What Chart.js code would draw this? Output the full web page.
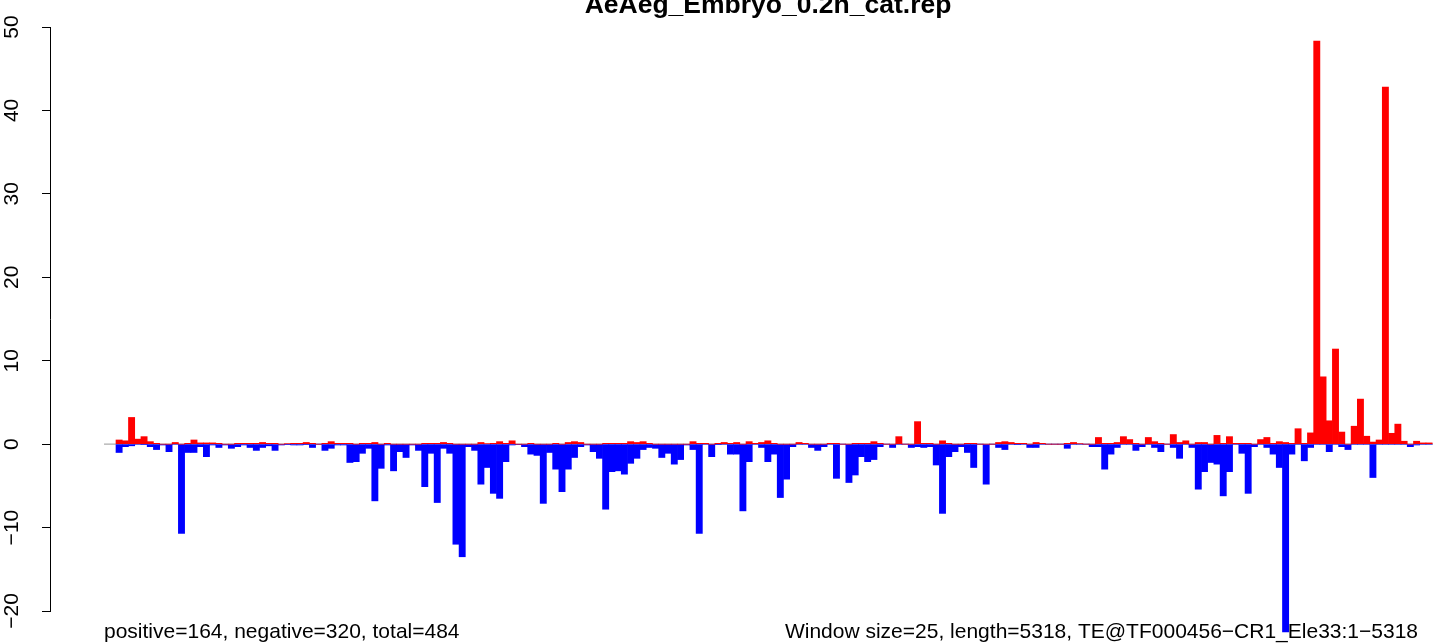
<!DOCTYPE html>
<html>
<head>
<meta charset="utf-8">
<script src="https://cdn.jsdelivr.net/npm/chart.js@4.4.1/dist/chart.umd.min.js"></script>
<style>
  html, body { margin: 0; padding: 0; background: #ffffff; overflow: hidden; }
  canvas { display: block; }
</style>
</head>
<body>
<canvas id="c" width="1433" height="643"></canvas>
<script>
// ---- data ----
const titleText = "AeAeg_Embryo_0.2h_cat.rep";
const leftNote = "positive=164, negative=320, total=484";
const rightNote = "Window size=25, length=5318, TE@TF000456\u2212CR1_Ele33:1\u22125318";
const yTicks = [-20, -10, 0, 10, 20, 30, 40, 50];

const positive = [
  0.5, 0.4, 3.2, 0.6, 0.9, 0.3, 0.1, 0, 0, 0.2,
  0, 0.1, 0.5, 0.15, 0.15, 0.15, 0.1, 0, 0, 0.1,
  0.1, 0.1, 0.1, 0.2, 0.1, 0.1, 0, 0.05, 0.1, 0.1,
  0.2, 0.1, 0, 0.1, 0.3, 0.1, 0.1, 0.1, 0, 0.1,
  0.1, 0.2, 0, 0.1, 0, 0, 0, 0, 0, 0.1,
  0.1, 0.1, 0.2, 0.1, 0, 0, 0, 0, 0.2, 0.05,
  0.1, 0.3, 0.1, 0.4, 0, 0, 0.1, 0, 0, 0,
  0.1, 0, 0.2, 0.3, 0.2, 0, 0, 0, 0.1, 0.1,
  0.1, 0.1, 0.3, 0.2, 0.3, 0.1, 0, 0, 0, 0,
  0, 0, 0.3, 0.1, 0.1, 0, 0.1, 0.2, 0.1, 0.2,
  0, 0.3, 0.1, 0.2, 0.4, 0.1, 0, 0, 0, 0.2,
  0.1, 0, 0, 0, 0.1, 0.1, 0, 0, 0.1, 0.1,
  0.1, 0.3, 0.1, 0, 0, 0.9, 0, 0, 2.7, 0.1,
  0.1, 0, 0.4, 0.1, 0, 0, 0.1, 0.1, 0, 0,
  0, 0.2, 0.3, 0.2, 0.1, 0.1, 0, 0.2, 0.1, 0,
  0, 0, 0.1, 0.2, 0.05, 0, 0, 0.8, 0.1, 0.1,
  0.2, 0.9, 0.55, 0.1, 0, 0.8, 0.3, 0.1, 0, 1.15,
  0.2, 0.4, 0, 0.2, 0.2, 0, 1.05, 0.1, 0.9, 0.1,
  0.1, 0.1, 0, 0.55, 0.8, 0.1, 0.3, 0.2, 0.1, 1.85,
  0.1, 1.35, 48.3, 8.07, 2.8, 11.4, 1.45, 0, 2.15, 5.4,
  0.95, 0.25, 0.5, 42.8, 1.3, 2.4, 0.35, 0, 0.35, 0.15,
  0.15
];
const negative = [
  -1.0, -0.3, -0.2, 0, -0.05, -0.3, -0.65, -0.1, -0.9, 0,
  -10.7, -1.0, -1.0, -0.3, -1.5, -0.1, -0.4, -0.1, -0.5, -0.3,
  -0.1, -0.4, -0.75, -0.4, -0.2, -0.75, -0.1, -0.05, -0.1, -0.1,
  -0.05, -0.4, 0, -0.75, -0.5, -0.1, -0.1, -2.2, -2.1, -1.1,
  -0.5, -6.8, -2.9, -0.1, -3.2, -0.9, -1.6, -0.1, -0.75, -5.1,
  -1.1, -7.0, -0.5, -1.1, -12.0, -13.5, -0.3, -0.75, -4.8, -2.8,
  -5.9, -6.5, -2.1, -0.1, -0.05, -0.3, -1.2, -1.35, -7.1, -1.0,
  -3.0, -5.7, -3.0, -1.6, -0.3, -0.1, -0.9, -1.7, -7.8, -3.3,
  -3.2, -3.6, -2.3, -1.7, -0.65, -0.4, -0.5, -1.6, -1.1, -2.4,
  -1.85, -0.1, -0.65, -10.7, 0, -1.5, -0.05, 0, -1.2, -1.2,
  -8.0, -2.1, 0, -0.4, -2.1, -1.2, -6.4, -4.2, -0.3, 0,
  0, -0.4, -0.75, -0.3, 0, -4.1, 0, -4.6, -3.7, -1.5,
  -2.1, -1.85, -0.3, 0, -0.4, 0, 0, -0.4, -0.3, -0.4,
  -0.3, -2.5, -8.3, -1.5, -0.9, -0.3, -1.0, -2.8, 0, -4.8,
  0, -0.4, -0.65, 0, -0.05, 0, -0.4, -0.4, 0, 0,
  0, 0, -0.5, 0, 0, 0, -0.3, -0.3, -3.0, -1.2,
  -0.4, 0, 0, -0.75, -0.3, 0, -0.4, -0.9, 0, -0.4,
  -1.7, 0, -0.4, -5.4, -3.3, -2.2, -2.4, -6.2, -3.3, 0,
  -1.1, -5.9, -0.3, 0, -0.4, -1.2, -2.8, -22.5, -1.2, 0,
  -2.0, -0.4, 0, 0, -0.9, 0, -0.3, -0.65, 0, 0,
  0, -4.0, 0, 0, 0, 0, 0, -0.3, -0.1, 0,
  0
];
// window index (1-based); bar k spans [k-1, k] on the x scale
const windows = positive.map((_, i) => i + 1);

const posPoints = windows.map((w, i) => ({ x: w - 0.5, y: positive[i] }));
const negPoints = windows.map((w, i) => ({ x: w - 0.5, y: negative[i] }));
const zeroLine = [{ x: -1.92, y: 0 }, { x: windows.length + 2, y: 0 }];

const FONT = "'Liberation Sans', Arial, Helvetica, sans-serif";

const textPlugin = {
  id: 'rtexts',
  beforeDatasetsDraw(chart) {
    const ctx = chart.ctx;
    ctx.save();
    ctx.fillStyle = '#000';
    ctx.textBaseline = 'alphabetic';
    ctx.font = "bold 26.5px " + FONT;
    ctx.textAlign = 'center';
    ctx.fillText(titleText, 768, 13);
    ctx.font = "21px " + FONT;
    ctx.textAlign = 'left';
    ctx.fillText(leftNote, 104, 638);
    ctx.textAlign = 'right';
    ctx.fillText(rightNote, 1418, 638);
    ctx.restore();
  }
};

new Chart(document.getElementById('c'), {
  data: {
    datasets: [
      { type: 'bar', data: posPoints, backgroundColor: '#ff0000', borderWidth: 0,
        barPercentage: 1, categoryPercentage: 1, grouped: false, clip: false, order: 1 },
      { type: 'bar', data: negPoints, backgroundColor: '#0000ff', borderWidth: 0,
        barPercentage: 1, categoryPercentage: 1, grouped: false, clip: false, order: 1 },
      { type: 'line', data: zeroLine, borderColor: '#ababab', borderWidth: 1.3,
        pointRadius: 0, fill: false, order: 3 }
    ]
  },
  options: {
    responsive: false,
    animation: false,
    events: [],
    layout: { padding: { top: 27, bottom: 32, left: 0, right: 0 } },
    plugins: { legend: { display: false }, tooltip: { enabled: false }, title: { display: false } },
    scales: {
      x: {
        type: 'linear', display: false, offset: false,
        min: -10.58, max: 211.13,
        grid: { offset: false },
        ticks: { stepSize: 50 }
      },
      y: {
        type: 'linear', min: -20, max: 50,
        afterFit: s => { s.width = 50; },
        afterBuildTicks: s => { s.ticks = yTicks.map(v => ({ value: v })); },
        ticks: {
          minRotation: 90, maxRotation: 90, crossAlign: 'center', padding: 12,
          color: '#000', font: { family: FONT, size: 21 },
          callback: v => String(v).replace('-', '\u2212')
        },
        grid: { drawOnChartArea: false, drawTicks: true, tickLength: 8, color: '#000', lineWidth: 1 },
        border: { display: true, color: '#000', width: 1 }
      }
    }
  },
  plugins: [textPlugin]
});
</script>
</body>
</html>
